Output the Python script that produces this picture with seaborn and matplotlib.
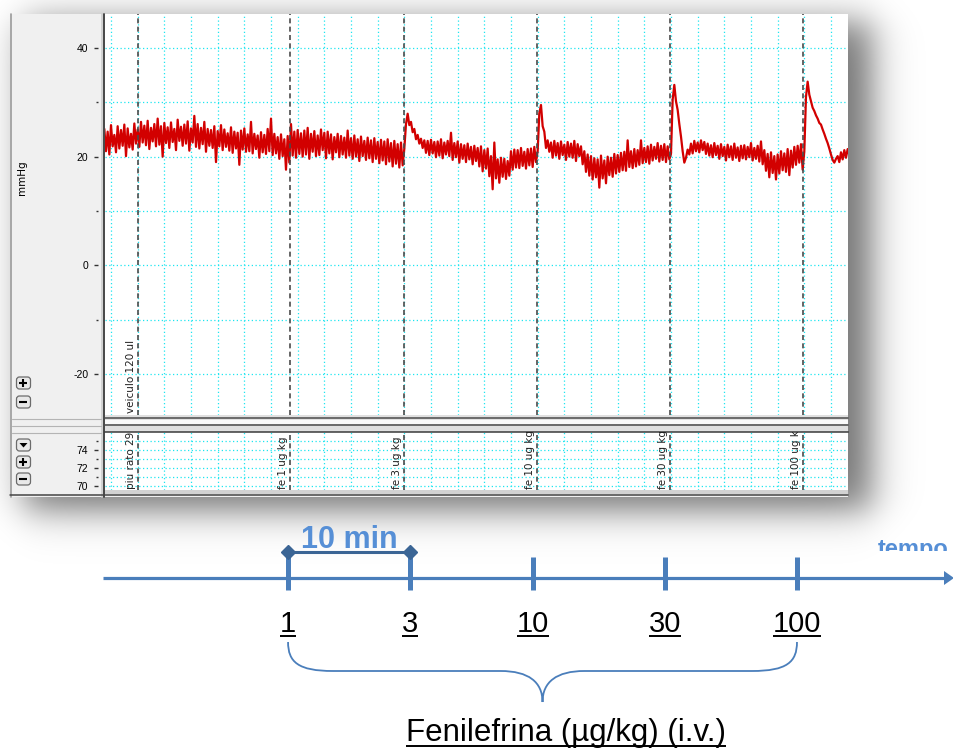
import numpy as np
import pandas as pd
import matplotlib
matplotlib.use("Agg")
import matplotlib.pyplot as plt
import matplotlib.transforms as mtransforms
from matplotlib.patches import Rectangle, FancyBboxPatch, PathPatch, Polygon
from matplotlib.path import Path
import seaborn as sns

# ---------------- data ----------------
# arterial pressure (mmHg), 8 samples per minute, first sample at t = -0.5 min
trace_t0 = -0.5
trace_dt = 0.125
pressure_rows = [
    [25.1, 21.0, 24.6, 20.4, 25.8, 21.9, 24.0, 20.8],
    [25.6, 21.5, 24.9, 22.0, 25.9, 20.1, 25.2, 21.7],
    [24.2, 21.3, 26.1, 22.4, 25.0, 21.8, 26.4, 22.6],
    [25.7, 22.1, 26.6, 21.4, 25.3, 22.8, 26.0, 21.9],
    [27.0, 22.2, 25.6, 20.0, 26.2, 22.5, 25.4, 21.6],
    [26.3, 22.7, 25.1, 21.2, 26.8, 22.9, 25.5, 22.0],
    [25.9, 22.4, 26.5, 21.1, 25.2, 22.6, 27.5, 21.8],
    [26.0, 21.5, 25.3, 22.3, 26.4, 20.9, 25.1, 22.0],
    [24.9, 21.6, 25.6, 19.0, 24.7, 21.9, 25.8, 21.2],
    [25.0, 21.8, 24.3, 21.1, 25.4, 20.7, 24.6, 21.5],
    [24.4, 18.5, 24.8, 21.3, 25.2, 20.9, 24.1, 21.0],
    [26.4, 20.6, 24.2, 21.4, 23.9, 19.8, 24.5, 20.8],
    [24.0, 20.5, 25.1, 21.0, 27.0, 20.3, 24.2, 20.6],
    [23.6, 19.6, 24.1, 20.1, 23.2, 17.6, 23.8, 18.9],
    [26.0, 20.2, 24.6, 19.8, 24.9, 20.5, 24.3, 20.0],
    [24.8, 20.4, 25.3, 19.6, 24.2, 20.9, 24.7, 20.1],
    [23.9, 20.3, 25.0, 21.2, 24.4, 19.7, 24.6, 20.6],
    [24.1, 19.5, 23.6, 20.8, 24.2, 19.9, 23.8, 20.4],
    [23.5, 19.8, 24.8, 20.2, 23.4, 19.6, 23.9, 20.0],
    [23.2, 19.2, 23.7, 20.1, 22.9, 19.4, 23.5, 19.7],
    [23.0, 19.0, 23.4, 19.6, 22.7, 18.8, 23.1, 19.3],
    [22.8, 18.6, 23.2, 19.1, 22.5, 18.2, 22.9, 18.7],
    [22.3, 18.0, 22.6, 18.4, 21.5, 26.0, 27.9, 25.8],
    [26.4, 24.5, 25.1, 23.2, 24.0, 22.4, 23.3, 21.6],
    [23.0, 20.7, 22.9, 20.3, 23.1, 20.6, 22.7, 19.9],
    [22.8, 20.2, 23.2, 19.7, 22.6, 20.4, 22.9, 20.1],
    [24.4, 19.4, 22.5, 19.9, 22.8, 18.9, 22.3, 19.6],
    [22.1, 19.0, 22.4, 19.5, 21.8, 18.6, 22.0, 19.2],
    [21.6, 18.2, 21.9, 17.3, 21.2, 17.8, 21.5, 16.4],
    [20.1, 14.0, 22.6, 16.0, 19.5, 15.2, 19.8, 16.3],
    [19.6, 15.9, 19.2, 16.5, 21.0, 17.6, 21.3, 18.0],
    [21.2, 17.9, 21.6, 18.3, 20.9, 17.8, 21.4, 18.4],
    [21.5, 18.1, 21.8, 19.0, 21.0, 28.0, 29.5, 25.6],
    [24.6, 21.6, 23.0, 20.9, 22.6, 19.8, 22.9, 20.2],
    [22.5, 19.6, 22.8, 20.3, 22.2, 19.4, 22.7, 20.0],
    [22.4, 19.8, 22.9, 19.2, 22.3, 20.1, 21.9, 18.6],
    [21.0, 17.2, 20.4, 16.5, 20.1, 15.8, 19.7, 16.2],
    [19.5, 14.3, 20.2, 16.0, 19.3, 15.1, 20.0, 16.6],
    [19.8, 16.3, 20.5, 16.9, 20.3, 17.2, 20.7, 17.5],
    [20.9, 17.4, 23.0, 18.1, 21.0, 17.9, 21.4, 18.2],
    [21.2, 18.5, 23.0, 18.8, 21.6, 19.0, 21.9, 18.7],
    [22.2, 19.3, 21.8, 19.6, 22.5, 19.1, 22.0, 19.4],
    [22.3, 19.0, 21.9, 19.5, 20.5, 30.5, 33.2, 30.2],
    [28.6, 26.0, 23.7, 21.0, 18.9, 19.8, 21.3, 20.4],
    [22.4, 20.6, 22.9, 21.0, 22.6, 20.8, 23.0, 21.2],
    [22.7, 20.5, 22.4, 20.2, 22.1, 19.9, 22.5, 20.3],
    [22.0, 19.6, 22.3, 20.1, 21.8, 19.3, 22.2, 19.9],
    [21.9, 19.4, 22.4, 19.8, 21.7, 19.2, 22.0, 19.7],
    [22.1, 19.5, 21.8, 19.9, 22.5, 19.3, 21.6, 19.6],
    [22.0, 19.1, 22.8, 18.6, 21.2, 17.4, 20.5, 16.2],
    [20.8, 17.0, 20.1, 15.8, 20.4, 16.9, 21.0, 17.5],
    [20.6, 17.2, 21.4, 16.6, 21.1, 18.0, 21.8, 18.5],
    [22.0, 18.9, 22.3, 17.6, 21.0, 31.0, 33.8, 31.4],
    [30.2, 29.0, 28.4, 27.6, 27.0, 26.2, 25.9, 25.0],
    [24.2, 23.3, 22.5, 21.5, 20.4, 19.4, 18.9, 19.6],
    [20.1, 19.0, 20.8, 19.5, 21.2, 19.8, 21.4, 20.3],
]

# comments (minutes)
event_times = [2.0, 13.4, 22.0, 31.95, 41.9, 51.9]
event_labels = ["piu rato 29", "fe 1 ug kg", "fe 3 ug kg",
                "fe 10 ug kg", "fe 30 ug kg", "fe 100 ug kg"]
top_comment = "veiculo 120 ul"
top_comment_time = 2.0

top_yticks = [-20, 0, 20, 40]
top_yminor = [-10, 10, 30]
bot_yticks = [70, 72, 74]
bot_yminor = [71, 73, 75]

# protocol timeline
dose_labels = ["1", "3", "10", "30", "100"]
dose_times = [13.28, 22.43, 31.65, 41.55, 51.45]
interval_label = "10 min"
axis_label = "tempo"
drug_label = "Fenilefrina (µg/kg) (i.v.)"

# ---------------- layout helpers ----------------
W, H = 954, 749
PX_PER_MIN = 13.333
T0_PX = 111


def fig_rect(x0, y0, x1, y1):
    return [x0 / W, 1 - y1 / H, (x1 - x0) / W, (y1 - y0) / H]


def px2t(x):
    return (x - T0_PX) / PX_PER_MIN


sns.set_theme(style="white")
plt.rcParams['font.family'] = ['Liberation Sans', 'DejaVu Sans']
plt.rcParams['axes.unicode_minus'] = False
UI_FONT = 'DejaVu Sans'

fig = plt.figure(figsize=(W / 100, H / 100), dpi=100)
fig.patch.set_facecolor('white')

canvas = fig.add_axes([0, 0, 1, 1], zorder=0)
canvas.axis('off')

# drop shadow of the screenshot window
yy, xx = np.mgrid[0:H, 0:W] + 0.5
s = 22.0
sx = 0.5 * (np.tanh((xx - 24) / s) - np.tanh((xx - 872) / s))
sy = 0.5 * (np.tanh((yy - 22) / s) - np.tanh((yy - 510) / s))
shadow = np.zeros((H, W, 4))
shadow[..., 3] = 0.55 * sx * sy
canvas.imshow(shadow, extent=(0, W, H, 0), zorder=0, interpolation='bilinear')
canvas.set_aspect('auto')
canvas.set_xlim(0, W)
canvas.set_ylim(H, 0)

# window body
canvas.add_patch(Rectangle((10, 14), 838, 483, fc='#f0f0f0', ec='none', zorder=1))
canvas.plot([11, 11], [14, 497], color='#9a9a9a', lw=1.2, zorder=2)
canvas.plot([102, 102], [14, 497], color='#cdcdcd', lw=1.2, zorder=2)
canvas.plot([104, 104], [14, 497], color='#3a3a3a', lw=1.3, zorder=2)
# splitter between channels
canvas.add_patch(Rectangle((105, 415), 743, 17, fc='#e0e0e0', ec='none', zorder=2))
canvas.add_patch(Rectangle((105, 420), 743, 4, fc='#fafafa', ec='none', zorder=2))
for yline in (418.3, 425.2):
    canvas.plot([105, 848], [yline, yline], color='#4a4a4a', lw=1.1, zorder=3)
for yline in (419, 426, 433):
    canvas.plot([12, 101], [yline, yline], color='#b4b4b4', lw=0.8, zorder=3)
canvas.add_patch(Rectangle((105, 490), 743, 4, fc='#d2d2d2', ec='none', zorder=2))
canvas.plot([10, 848], [495.3, 495.3], color='#454545', lw=1.1, zorder=3)

canvas.text(22, 178, 'mmHg', rotation=90, ha='center', va='center',
            fontsize=7.5, family=UI_FONT, color='black', zorder=3)


def button(x, y, kind):
    canvas.add_patch(FancyBboxPatch((x, y), 14, 12,
                                    boxstyle='round,pad=0,rounding_size=3',
                                    fc='#e8e8e8', ec='#6c6c6c', lw=0.9, zorder=3))
    cx, cy = x + 7, y + 6
    if kind in '+-':
        canvas.plot([cx - 4, cx + 4], [cy, cy], color='black', lw=1.5,
                    solid_capstyle='butt', zorder=4)
    if kind == '+':
        canvas.plot([cx, cx], [cy - 4, cy + 4], color='black', lw=1.5,
                    solid_capstyle='butt', zorder=4)
    if kind == 'v':
        canvas.add_patch(Polygon([[cx - 4, cy - 2], [cx + 4, cy - 2], [cx, cy + 2.5]],
                                 fc='black', ec='none', zorder=4))


for bx, by, kind in [(16.5, 377, '+'), (16.5, 396, '-'),
                     (16.5, 439, 'v'), (16.5, 456, '+'), (16.5, 473, '-')]:
    button(bx, by, kind)

# ---------------- chart panels ----------------
x_lo, x_hi = px2t(105), px2t(848)
ax_top = fig.add_axes(fig_rect(105, 14, 848, 415), zorder=2)
ax_bot = fig.add_axes(fig_rect(105, 432, 848, 490), zorder=2)

pressure = np.concatenate([np.array(r) for r in pressure_rows])
times = trace_t0 + trace_dt * np.arange(len(pressure))
df = pd.DataFrame({'t': times, 'p': pressure})
sns.lineplot(data=df, x='t', y='p', ax=ax_top, color='#d20000', lw=1.6,
             estimator=None, sort=False, legend=False, zorder=2)


def style_panel(ax, ylim, major, minor):
    ax.set_facecolor('white')
    ax.set_xlim(x_lo, x_hi)
    ax.set_ylim(*ylim)
    ax.set_xticks(np.arange(0, 56, 2))
    ax.set_yticks(major)
    ax.set_yticks(minor, minor=True)
    ax.tick_params(axis='x', length=0, labelbottom=False)
    ax.tick_params(axis='y', which='major', direction='out', length=3, width=1,
                   color='#333333', pad=4, labelsize=7.5, labelcolor='black', left=True)
    ax.tick_params(axis='y', which='minor', direction='out', length=1.5, width=1,
                   color='#333333', left=True)
    for lbl in ax.get_yticklabels():
        lbl.set_fontfamily(UI_FONT)
    for sp in ('top', 'right', 'bottom'):
        ax.spines[sp].set_visible(False)
    ax.spines['left'].set_position(('outward', 5))
    ax.spines['left'].set_visible(False)
    ax.grid(True, which='both', color='#1ee6f0', ls=(0, (1, 2)), lw=0.9)
    ax.set_axisbelow(True)
    ax.set_xlabel('')
    ax.set_ylabel('')
    for t in event_times:
        ax.axvline(t, color='#4a4a4a', ls=(0, (3, 2)), lw=1.2, zorder=3)


style_panel(ax_top, (-27.52, 46.24), top_yticks, top_yminor)
style_panel(ax_bot, (69.56, 76.0), bot_yticks, bot_yminor)
ax_bot.spines['top'].set_visible(True)
ax_bot.spines['top'].set_color('#3a3a3a')
ax_bot.spines['top'].set_linewidth(1.1)

tr_bot = mtransforms.offset_copy(ax_bot.get_xaxis_transform(), fig=fig, x=-2, y=0, units='dots')
for t, lab in zip(event_times, event_labels):
    ax_bot.text(t, 0.02, lab, transform=tr_bot, rotation=90, ha='right', va='bottom',
                fontsize=7.5, family=UI_FONT, color='#202020', clip_on=True, zorder=4)
tr_top = mtransforms.offset_copy(ax_top.get_xaxis_transform(), fig=fig, x=-2, y=0, units='dots')
ax_top.text(top_comment_time, 0.005, top_comment, transform=tr_top, rotation=90,
            ha='right', va='bottom', fontsize=7.5, family=UI_FONT, color='#202020',
            clip_on=True, zorder=4)

# ---------------- protocol timeline ----------------
tl = fig.add_axes([0, 0, 1, (H - 505) / H], zorder=3)
tl.set_xlim(px2t(0), px2t(W))
tl.set_ylim(H, 505)
tl.axis('off')
tl.patch.set_alpha(0)

blue = '#4a7ebb'
light_blue = '#568fd6'
navy = '#3b6595'

tl.plot([px2t(103), px2t(945)], [578, 578], color=blue, lw=2.3, solid_capstyle='butt')
tl.add_patch(Polygon([[px2t(944), 571], [px2t(954), 578], [px2t(944), 585]],
                     fc=blue, ec='none'))
tl.vlines(dose_times, 557, 590, color=blue, lw=3.6)

underline_items = []
for t, lab in zip(dose_times, dose_labels):
    txt = tl.text(t, 632, lab, ha='center', va='baseline', fontsize=21, color='black')
    underline_items.append((txt, 635.5))

tl.plot(dose_times[:2], [552, 552], color=navy, lw=2.2, marker='D', ms=7.5,
        mfc=navy, mec=navy)
tl.text((dose_times[0] + dose_times[1]) / 2, 548, interval_label, ha='center',
        va='baseline', fontsize=22, fontweight='bold', color=light_blue)

tempo = tl.text(px2t(878), 556, axis_label, ha='left', va='baseline', fontsize=17,
                fontweight='bold', color=light_blue, clip_on=True)
clip = Rectangle((px2t(860), 505), 10, 46, transform=tl.transData)
tempo.set_clip_path(clip)

# curly brace grouping the doses
a0, a1 = dose_times[0], dose_times[-1]
m = (a0 + a1) / 2
k = 1 / PX_PER_MIN
verts = [(a0, 642), (a0, 662), (a0 + 10 * k, 671), (a0 + 45 * k, 671),
         (m - 42 * k, 671),
         (m - 14 * k, 671), (m, 682), (m, 702),
         (m, 682), (m + 14 * k, 671), (m + 42 * k, 671),
         (a1 - 45 * k, 671),
         (a1 - 10 * k, 671), (a1, 662), (a1, 642)]
codes = [Path.MOVETO, Path.CURVE4, Path.CURVE4, Path.CURVE4,
         Path.LINETO,
         Path.CURVE4, Path.CURVE4, Path.CURVE4,
         Path.CURVE4, Path.CURVE4, Path.CURVE4,
         Path.LINETO,
         Path.CURVE4, Path.CURVE4, Path.CURVE4]
tl.add_patch(PathPatch(Path(verts, codes), fc='none', ec=blue, lw=1.3))

drug = tl.text(px2t(566), 741, drug_label, ha='center', va='baseline', fontsize=22.5,
               color='black')
underline_items.append((drug, 745.5))

fig.canvas.draw()
renderer = fig.canvas.get_renderer()
inv = tl.transData.inverted()
for txt, yline in underline_items:
    bb = txt.get_window_extent(renderer)
    (ux0, _), (ux1, _) = inv.transform([[bb.x0, 0], [bb.x1, 0]])
    tl.plot([ux0, ux1], [yline, yline], color='black', lw=1.4, solid_capstyle='butt')

fig.savefig('out.png', dpi=100)
